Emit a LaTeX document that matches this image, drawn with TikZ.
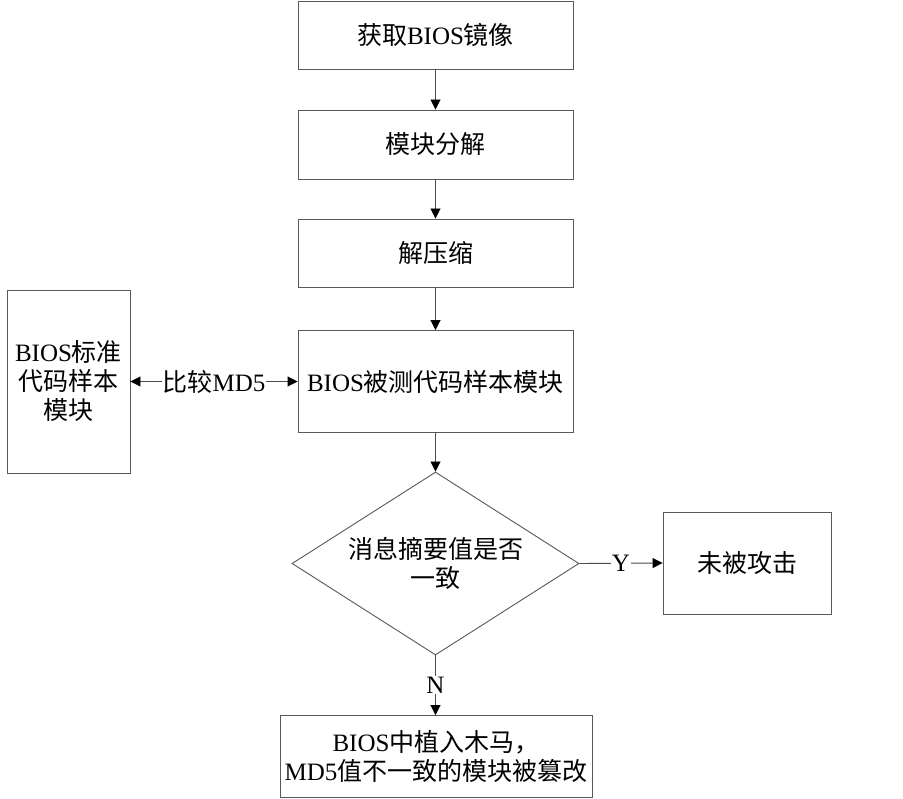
\documentclass[tikz,border=0pt]{standalone}
\usepackage{fontspec}
\setmainfont{Liberation Serif}
\newfontfamily\cjk{Noto Sans CJK SC}
\usetikzlibrary{arrows.meta,shapes.geometric}
\begin{document}
\begin{tikzpicture}[x=1pt,y=-1pt,
  txt/.style={font=\fontsize{25}{29}\selectfont},
  box/.style={txt,draw=black!65,line width=0.9pt,inner sep=0pt,align=center},
  dia/.style={txt,diamond,draw=black!65,line width=0.9pt,inner sep=0pt,aspect=1.57,align=center,minimum width=287pt,minimum height=183pt},
  tip/.tip={Triangle[length=10pt,width=10pt,fill=black,color=black]},
  arr/.style={draw=black!70,line width=0.9pt,-tip},
  arrb/.style={draw=black!70,line width=0.9pt,tip-tip},
  lbl/.style={txt,fill=white,inner sep=1pt}]
\fill[white] (0,0) rectangle (903,799);
\useasboundingbox (0,0) rectangle (903,799);
\node[box,minimum width=275pt,minimum height=68pt] (b1) at (435.5,35) {{\cjk 获取}BIOS{\cjk 镜像}};
\node[box,minimum width=275pt,minimum height=69pt] (b2) at (435.5,144.5) {\cjk 模块分解};
\node[box,minimum width=275pt,minimum height=68pt] (b3) at (435.5,253) {\cjk 解压缩};
\node[box,minimum width=275pt,minimum height=102pt] (b4) at (435.5,381.5) {BIOS{\cjk 被测代码样本模块}};
\node[box,minimum width=123pt,minimum height=183pt] (std) at (68.5,381.5) {BIOS{\cjk 标准}\\{\cjk 代码样本}\\{\cjk 模块}};
\node[dia] (d) at (435.5,563.5) {\cjk 消息摘要值是否\\\cjk 一致};
\node[box,minimum width=168pt,minimum height=102pt] (ok) at (747,563) {\cjk 未被攻击};
\node[box,minimum width=312pt,minimum height=82pt] (bad) at (436,756.5) {BIOS{\cjk 中植入木马，}\\MD5{\cjk 值不一致的模块被篡改}};
\draw[arr] (b1) -- (b2);
\draw[arr] (b2) -- (b3);
\draw[arr] (b3) -- (b4);
\draw[arr] (b4) -- (d);
\draw[arrb] (std) -- node[lbl] {{\cjk 比较}MD5} (b4);
\draw[arr] (d.east) -- node[lbl] {Y} (ok.west);
\draw[arr] (d.south) -- node[lbl] {N} (d.south |- bad.north);
\end{tikzpicture}
\end{document}
